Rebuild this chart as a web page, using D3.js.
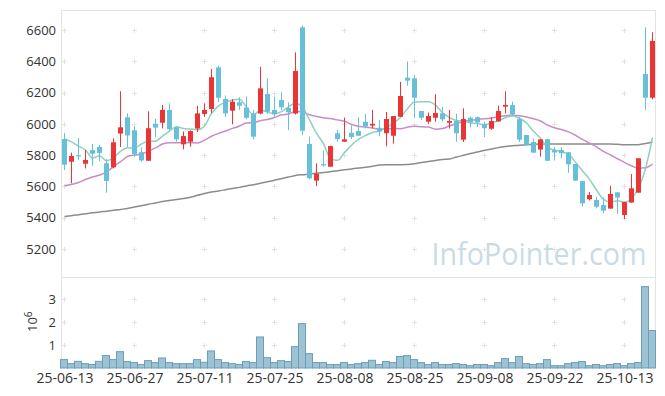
<!DOCTYPE html>
<html><head><meta charset="utf-8">
<script src="https://cdn.jsdelivr.net/npm/d3@7"></script>
<style>html,body{margin:0;padding:0;background:#fff;} svg{display:block;}</style>
</head><body><svg id="c" width="665" height="396"></svg>
<script>
const dates=["25-06-13","25-06-16","25-06-17","25-06-18","25-06-19","25-06-20","25-06-23","25-06-24","25-06-25","25-06-26","25-06-27","25-06-30","25-07-01","25-07-02","25-07-03","25-07-04","25-07-07","25-07-08","25-07-09","25-07-10","25-07-11","25-07-14","25-07-15","25-07-16","25-07-17","25-07-18","25-07-21","25-07-22","25-07-23","25-07-24","25-07-25","25-07-28","25-07-29","25-07-30","25-07-31","25-08-01","25-08-04","25-08-05","25-08-06","25-08-07","25-08-08","25-08-11","25-08-12","25-08-13","25-08-14","25-08-18","25-08-19","25-08-20","25-08-21","25-08-22","25-08-25","25-08-26","25-08-27","25-08-28","25-08-29","25-09-01","25-09-02","25-09-03","25-09-04","25-09-05","25-09-08","25-09-09","25-09-10","25-09-11","25-09-12","25-09-15","25-09-16","25-09-17","25-09-18","25-09-19","25-09-22","25-09-23","25-09-24","25-09-25","25-09-26","25-09-29","25-09-30","25-10-01","25-10-02","25-10-10","25-10-13","25-10-14","25-10-15","25-10-16","25-10-17"];
const open=[5903,5758,5800,5745,5833,5852,5748,5722,5938,6042,5959,5819,5764,6000,6007,6089,5978,5869,5886,5970,6063,6095,6361,6159,6084,6138,6104,6067,6066,6191,6089,6152,6103,6066,6617,5871,5637,5742,5726,5940,5886,5943,5954,6013,5989,5975,5940,5924,6045,6295,6291,6082,6014,6039,6067,6007,6018,5899,6039,6042,6000,5969,6016,6110,6121,6030,5929,5884,5836,5902,5833,5833,5818,5743,5635,5518,5513,5481,5458,5562,5417,5497,5560,6319,6167];
const high=[5941,5816,5908,5833,5871,5865,5773,5908,6208,6067,5986,5849,6080,6032,6121,6131,5980,5951,5958,6114,6131,6351,6372,6181,6159,6170,6175,6089,6365,6291,6174,6202,6138,6457,6629,5918,5748,5830,5860,5961,6040,5990,6042,6063,6089,6025,6076,6050,6268,6399,6312,6082,6072,6189,6108,6089,6065,6099,6046,6047,6014,6042,6117,6208,6142,6041,5929,5905,5903,5903,5852,5852,5820,5743,5635,5564,5534,5529,5603,5564,5502,5679,5780,6617,6585];
const low=[5705,5620,5770,5715,5731,5763,5560,5716,5852,5852,5790,5759,5764,5915,5971,5948,5886,5837,5854,5948,6045,6069,6140,6044,5997,6089,6031,5901,6060,6065,6046,6089,5961,6060,5929,5646,5603,5726,5726,5886,5886,5903,5922,5972,5972,5920,5856,5874,6045,6245,6037,6025,6000,6014,6014,5970,5886,5884,5977,5980,5916,5962,6015,6067,6052,5884,5860,5816,5791,5764,5766,5780,5688,5635,5472,5510,5459,5428,5458,5424,5392,5496,5560,6089,6157];
const close=[5739,5795,5795,5769,5809,5814,5635,5882,5978,5926,5807,5766,5972,5976,6089,5967,5901,5922,5954,6067,6089,6298,6167,6067,6142,6116,6039,5918,6227,6078,6061,6106,6074,6338,5956,5652,5680,5740,5858,5903,5901,5916,5924,5983,6000,5951,6031,6050,6178,6276,6167,6039,6050,6069,6029,6018,5940,6031,6010,6009,5972,6018,6082,6121,6060,5899,5865,5816,5901,5764,5817,5812,5741,5637,5492,5545,5470,5445,5552,5529,5500,5588,5780,6167,6530];
const volume=[365000,190000,290000,190000,150000,290000,540000,365000,710000,280000,235000,150000,320000,235000,435000,235000,190000,190000,190000,365000,250000,740000,365000,235000,190000,150000,280000,235000,1350000,450000,235000,320000,280000,930000,1930000,625000,235000,235000,150000,150000,235000,150000,190000,235000,335000,150000,280000,235000,500000,540000,365000,235000,150000,235000,150000,150000,190000,150000,100000,150000,150000,100000,235000,410000,235000,500000,190000,150000,190000,365000,100000,100000,190000,235000,280000,100000,150000,100000,150000,190000,100000,190000,235000,3540000,1630000];
// moving-average values before the window is full
const ma5Head=[5903,5885,5858,5833];
const ma20Head=[5604,5612,5625,5644,5660,5673,5692,5727,5758,5791,5801,5807,5826,5846,5871,5880,5880,5880,5880];
// long moving average (grey)
const maLong=[5408,5413,5419,5425,5431,5436,5442,5447,5453,5459,5468,5477,5486,5494,5503,5510,5516,5523,5531,5543,5555,5564,5571,5579,5587,5594,5603,5611,5620,5630,5640,5649,5660,5670,5675,5679,5684,5689,5694,5700,5706,5712,5718,5722,5729,5737,5739,5739,5739,5740,5745,5753,5759,5766,5772,5775,5788,5799,5810,5820,5831,5839,5848,5856,5860,5864,5866,5869,5871,5871,5871,5871,5871,5871,5871,5871,5871,5871,5871,5869,5867,5866,5867,5874,5884];
const priceTicks=[5200,5400,5600,5800,6000,6200,6400,6600];
const volTicks=[1000000,2000000,3000000];
const labelIdx=[0,10,20,30,40,50,60,70,80];

const svg=d3.select("#c");
const n=close.length;
const x=d3.scaleLinear().domain([-0.5,n-0.5]).range([60.5,655.5]);
const y=d3.scaleLinear().domain([5200,6600]).range([249,30]);
const yv=d3.scaleLinear().domain([0,1000000]).range([368,345]);
const font='"Open Sans","DejaVu Sans",sans-serif';
const UP="#eb3535", DOWN="#67bfd9";

function rolling(w,head){return close.map((c,i)=> i>=w-1 ? d3.mean(close.slice(i-w+1,i+1)) : head[i]);}
const ma5=rolling(5,ma5Head), ma20=rolling(20,ma20Head);

// frame
const frame=svg.append("g").attr("stroke","#e3e3e3").attr("stroke-width",1);
frame.append("line").attr("x1",61.5).attr("x2",61.5).attr("y1",10).attr("y2",368);
frame.append("line").attr("x1",655.5).attr("x2",655.5).attr("y1",10).attr("y2",368);
frame.append("line").attr("x1",61).attr("x2",656).attr("y1",10.5).attr("y2",10.5);
frame.append("line").attr("x1",61).attr("x2",656).attr("y1",277.5).attr("y2",277.5);

// grid crosses
const cross=svg.append("g").attr("stroke","#e2e2e2").attr("stroke-width",1);
const pts=[];
labelIdx.forEach(i=>{priceTicks.forEach(v=>pts.push([x(i)+0.5,Math.round(y(v))+0.5]));volTicks.forEach(v=>pts.push([x(i)+0.5,Math.round(yv(v))+0.5]));});
pts.forEach(([cx,cy])=>{cross.append("line").attr("x1",cx-2.5).attr("x2",cx+2.5).attr("y1",cy).attr("y2",cy);cross.append("line").attr("x1",cx).attr("x2",cx).attr("y1",cy-2.5).attr("y2",cy+2.5);});

// watermark
svg.append("text").attr("x",431.5).attr("y",265).attr("text-anchor","start")
 .attr("font-family",'"Open Sans",sans-serif').attr("font-size",31)
 .attr("textLength",215).attr("lengthAdjust","spacingAndGlyphs")
 .attr("fill","#cbdbe6").text("InfoPointer.com");

// axes
const ya=svg.append("g").attr("transform","translate(61,0)")
 .call(d3.axisLeft(y).tickValues(priceTicks).tickSize(0).tickPadding(5).tickFormat(d3.format("d")));
const yva=svg.append("g").attr("transform","translate(61,0)")
 .call(d3.axisLeft(yv).tickValues(volTicks).tickSize(0).tickPadding(5).tickFormat(d=>d/1e6));
const xa=svg.append("g").attr("transform","translate(0.5,368)")
 .call(d3.axisBottom(x).tickValues(labelIdx).tickSize(0).tickPadding(5).tickFormat(i=>dates[i]));
[ya,yva,xa].forEach(g=>{g.select(".domain").remove();g.selectAll("text").attr("font-family",font).attr("fill","#333");});
ya.selectAll("text").attr("font-size",13);
yva.selectAll("text").attr("font-size",13);
xa.selectAll("text").attr("font-size",14);

const vl=svg.append("text").attr("transform","translate(37,332) rotate(-90)").attr("font-family",font).attr("font-size",13).attr("fill","#333");
vl.append("tspan").text("10");
vl.append("tspan").attr("dy",-5).attr("font-size",10).text("6");

// volume bars
svg.append("g").selectAll("rect").data(volume).join("rect")
 .attr("x",(d,i)=>x(i)-3.5).attr("width",7)
 .attr("y",d=>yv(d)).attr("height",d=>yv(0)-yv(d))
 .attr("fill","#9dc2d3").attr("stroke","#6a9fb8").attr("stroke-width",1);

// moving averages
const line=d=>d3.line().x((v,i)=>x(i)+0.5).y(v=>y(v)).curve(d3.curveMonotoneX)(d);
svg.append("path").attr("d",line(maLong)).attr("fill","none").attr("stroke","#8c8c8c").attr("stroke-width",1.5);
svg.append("path").attr("d",line(ma20)).attr("fill","none").attr("stroke","#c98cc8").attr("stroke-width",1.5);
svg.append("path").attr("d",line(ma5)).attr("fill","none").attr("stroke","#8ed0c3").attr("stroke-width",1.5);

// candles
const cg=svg.append("g");
close.forEach((c,i)=>{
  const o=open[i], up=c>o, col=up?UP:DOWN, cx=x(i)+0.5;
  cg.append("line").attr("x1",cx).attr("x2",cx).attr("y1",y(high[i])).attr("y2",y(low[i])).attr("stroke",col).attr("stroke-width",1);
  const top=y(Math.max(o,c)), bot=y(Math.min(o,c));
  cg.append("rect").attr("x",cx-2.5).attr("width",5).attr("y",top).attr("height",Math.max(1.2,bot-top)).attr("fill",col);
});
</script></body></html>
